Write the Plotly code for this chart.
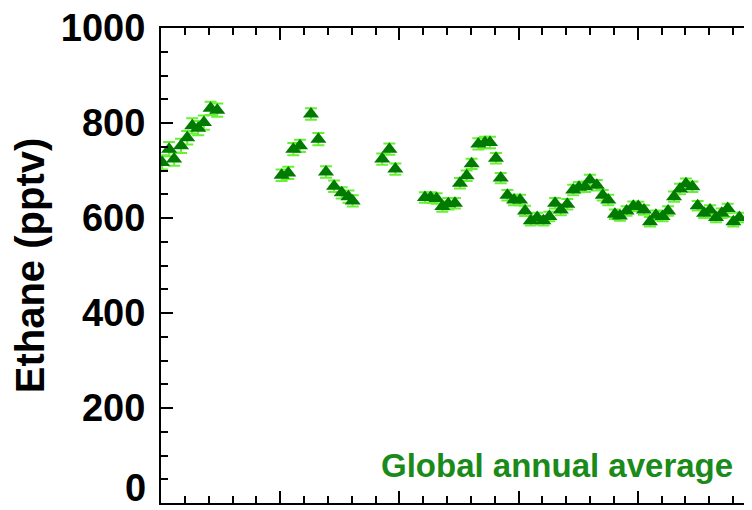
import plotly.graph_objects as go

# ---- data (decimal year, ethane pptv, 1-sigma) ----
g1_year = [1985.05, 1985.34, 1985.55, 1985.84, 1986.10, 1986.31, 1986.56, 1986.80, 1987.08, 1987.36]
g1_ppt = [717, 745, 724, 752, 769, 794, 789, 801, 831, 827]
g1_err = [15, 15, 14, 15, 14, 16, 15, 15, 14, 14]

g2_year = [1990.06, 1990.34, 1990.55, 1990.83, 1991.29, 1991.60, 1991.92, 1992.26, 1992.58, 1992.86, 1993.04]
g2_ppt = [690, 695, 745, 752, 819, 766, 697, 667, 653, 645, 636]
g2_err = [12, 13, 13, 13, 12, 13, 12, 12, 12, 13, 12]

g3_year = [1994.28, 1994.58, 1994.83]
g3_ppt = [724, 745, 703]
g3_err = [12, 12, 12]

g4_year = [1996.07, 1996.31, 1996.56, 1996.80, 1997.05, 1997.33, 1997.54, 1997.82,
           1998.03, 1998.31, 1998.59, 1998.80, 1999.05, 1999.25, 1999.53, 1999.81,
           2000.06, 2000.27, 2000.51, 2000.78, 2001.04, 2001.29, 2001.53, 2001.77,
           2002.04, 2002.29, 2002.53, 2002.79, 2002.99, 2003.28, 2003.53, 2003.76,
           2004.04, 2004.25, 2004.53, 2004.81, 2005.02, 2005.26, 2005.51, 2005.76,
           2006.04, 2006.27, 2006.52, 2006.77, 2007.02, 2007.29, 2007.51, 2007.78,
           2008.03, 2008.28, 2008.52, 2008.77, 2009.01, 2009.26]
g4_ppt = [643, 643, 641, 624, 630, 631, 673, 689, 714, 756,
          759, 759, 726, 684, 648, 638, 638, 615, 594, 601,
          594, 603, 631, 617, 629, 659, 665, 666, 680, 669,
          648, 638, 608, 604, 615, 625, 624, 617, 592, 606,
          603, 615, 645, 661, 672, 666, 626, 610, 617, 601,
          610, 620, 592, 601]
g4_err = [11, 11, 11, 11, 12, 11, 11, 11, 11, 12,
          12, 12, 11, 11, 11, 11, 11, 11, 10, 10,
          10, 10, 11, 11, 11, 11, 11, 11, 11, 11,
          11, 11, 10, 10, 10, 10, 10, 10, 10, 10,
          10, 10, 11, 11, 11, 11, 10, 10, 10, 10,
          10, 10, 10, 10]

y_ticks = [0, 200, 400, 600, 800, 1000]
y_tick_text = ["0", "200", "400", "600", "800", "1000"]

years = g1_year + g2_year + g3_year + g4_year
ppt = g1_ppt + g2_ppt + g3_ppt + g4_ppt
err = g1_err + g2_err + g3_err + g4_err

FONT = "Liberation Sans, Arial, sans-serif"
TICKFONT = dict(family=FONT, size=38, color="black", weight="bold")

# the bottom label sits at the clipped lower edge of the picture; it is drawn
# as a text annotation so that it stays inside the page
axis_text = [""] + y_tick_text[1:]

fig = go.Figure()
fig.add_trace(go.Scatter(
    x=years, y=ppt, mode="markers",
    marker=dict(symbol="triangle-up", size=14, color="#007a00", line=dict(width=0)),
    error_y=dict(type="data", array=err, visible=True, color="#66f233", thickness=2, width=6),
    showlegend=False, hoverinfo="x+y",
))

fig.update_layout(
    width=744, height=502,
    margin=dict(l=153, r=0, t=20, b=7),
    paper_bgcolor="white", plot_bgcolor="white",
    font=dict(family=FONT, color="black"),
    xaxis=dict(
        range=[1985, 2009.79], showgrid=False, zeroline=False,
        showline=True, linecolor="black", linewidth=2, mirror="ticks",
        ticks="inside", tick0=1985, dtick=5, ticklen=12, tickwidth=2, tickcolor="black",
        minor=dict(ticks="inside", dtick=1, ticklen=7, tickwidth=1.5, tickcolor="black", showgrid=False),
        showticklabels=False,
    ),
    yaxis=dict(
        range=[0, 1000], showgrid=False, zeroline=False,
        showline=True, linecolor="black", linewidth=2,
        ticks="inside", tickvals=y_ticks, ticktext=axis_text, ticklen=12, tickwidth=2, tickcolor="black",
        minor=dict(ticks="inside", dtick=50, ticklen=7, tickwidth=1.5, tickcolor="black", showgrid=False),
        tickfont=TICKFONT,
        ticklabelstandoff=6, ticklabeloverflow="allow",
        title=dict(text="Ethane (pptv)", font=dict(family=FONT, size=40, color="black", weight="bold"), standoff=8),
    ),
    yaxis2=dict(
        range=[0, 1000], overlaying="y", side="right", anchor="x",
        showgrid=False, zeroline=False, showline=False,
        ticks="inside", tickvals=y_ticks, ticklen=7, tickwidth=2, tickcolor="black",
        minor=dict(ticks="inside", dtick=50, ticklen=3, tickwidth=1.5, tickcolor="black", showgrid=False),
        showticklabels=False,
    ),
    annotations=[
        dict(
            text="Global annual average", xref="paper", yref="paper",
            x=0.971, y=0.08, xanchor="right", yanchor="middle", showarrow=False,
            font=dict(family=FONT, size=33, color="#1a8a1a", weight="bold"),
        ),
        dict(
            text=y_tick_text[0], xref="paper", yref="paper",
            x=-14 / 591, y=-7 / 475, xanchor="right", yanchor="bottom", showarrow=False,
            font=TICKFONT, borderpad=0,
        ),
    ],
)

fig.write_html("out.html", config={"displayModeBar": False})
